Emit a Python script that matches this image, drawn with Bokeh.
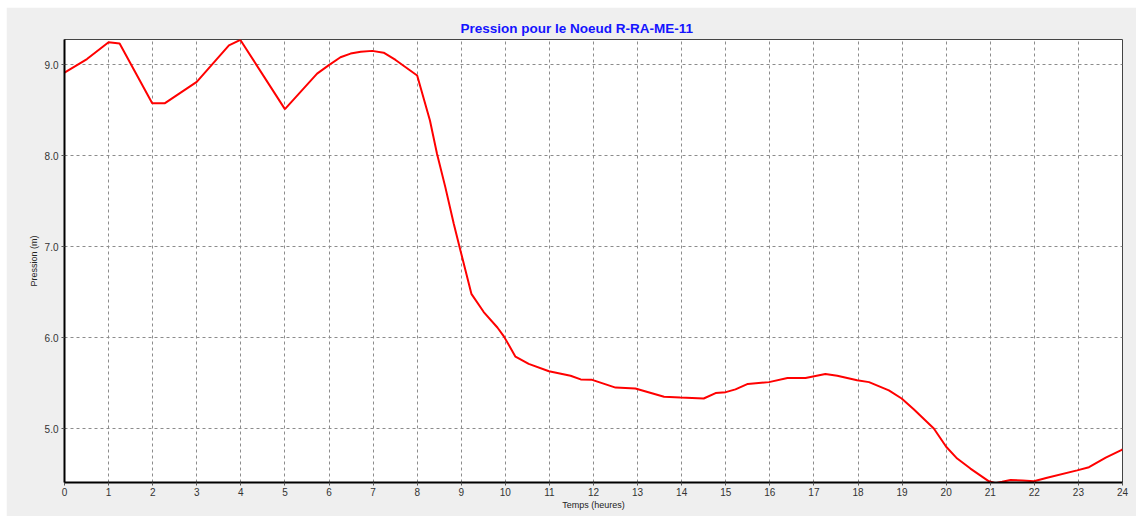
from bokeh.plotting import figure
from bokeh.models import Range1d, FixedTicker, Title, CustomJSTickFormatter
from bokeh.embed import file_html
from bokeh.resources import INLINE

temps = [0.0, 0.51, 1.0, 1.25, 1.99, 2.28, 3.0, 3.73, 3.99, 5.0, 5.73, 5.99, 6.26, 6.49,
         6.72, 6.98, 7.24, 7.51, 8.0, 8.29, 8.45, 8.64, 8.83, 8.98, 9.23, 9.51, 9.82,
         9.97, 10.23, 10.53, 10.99, 11.48, 11.71, 11.97, 12.5, 12.95, 13.6, 13.97, 14.5,
         14.77, 15.0, 15.22, 15.5, 15.98, 16.4, 16.81, 17.26, 17.53, 17.98, 18.25, 18.7,
         18.99, 19.27, 19.72, 20.0, 20.25, 20.55, 20.97, 21.12, 21.27, 21.46, 21.73,
         21.99, 22.29, 22.97, 23.24, 23.62, 23.96, 24.0]
pression = [8.91, 9.06, 9.245, 9.23, 8.575, 8.575, 8.81, 9.21, 9.27, 8.51, 8.90, 8.99,
            9.08, 9.12, 9.14, 9.15, 9.13, 9.05, 8.88, 8.385, 8.02, 7.65, 7.25, 6.96,
            6.48, 6.28, 6.11, 6.01, 5.79, 5.71, 5.63, 5.58, 5.54, 5.535, 5.45, 5.44,
            5.35, 5.34, 5.33, 5.39, 5.40, 5.43, 5.49, 5.51, 5.555, 5.555, 5.60, 5.58,
            5.53, 5.51, 5.42, 5.33, 5.21, 5.0, 4.80, 4.67, 4.56, 4.42, 4.40, 4.415,
            4.435, 4.43, 4.42, 4.46, 4.54, 4.575, 4.68, 4.76, 4.77]
x_ticks = list(range(0, 25))
y_ticks = [5.0, 6.0, 7.0, 8.0, 9.0]
titre = "Pression pour le Noeud R-RA-ME-11"

p = figure(width=1130, height=509, output_backend="svg", toolbar_location=None,
           x_range=Range1d(0, 24), y_range=Range1d(4.407, 9.275),
           min_border_left=58, min_border_right=14, min_border_top=32, min_border_bottom=34)
p.margin = (7, 0, 0, 6)

p.border_fill_color = "#efefef"
p.background_fill_color = "white"
p.outline_line_color = "#444444"
p.outline_line_width = 1

t = Title(text=titre, align="left", offset=396, text_color="#1414ff",
          text_font="Liberation Sans", text_font_size="13.5px", text_font_style="bold",
          standoff=8)
p.add_layout(t, "above")

p.line(temps, pression, line_color="#ff0000", line_width=2)

for ax in (p.xaxis[0], p.yaxis[0]):
    ax.axis_line_color = "black"
    ax.axis_line_width = 2
    ax.major_tick_line_color = "#555555"
    ax.major_tick_in = 0
    ax.major_tick_out = 3
    ax.minor_tick_line_color = None
    ax.major_label_text_font = "Liberation Sans"
    ax.major_label_text_font_size = "10px"
    ax.major_label_text_color = "#333333"
    ax.axis_label_text_font = "Liberation Sans"
    ax.axis_label_text_font_size = "9px"
    ax.axis_label_text_font_style = "normal"
    ax.axis_label_text_color = "#222222"

p.xaxis[0].ticker = FixedTicker(ticks=x_ticks)
p.yaxis[0].ticker = FixedTicker(ticks=y_ticks)
p.yaxis[0].formatter = CustomJSTickFormatter(code="return tick.toFixed(1);")
p.xaxis[0].axis_label = "Temps (heures)"
p.yaxis[0].axis_label = "Pression (m)"
p.xaxis[0].major_label_standoff = 2
p.xaxis[0].axis_label_standoff = 1
p.yaxis[0].major_label_standoff = 3
p.yaxis[0].axis_label_standoff = 3

for g in (p.xgrid[0], p.ygrid[0]):
    g.grid_line_color = "#8c8c8c"
    g.grid_line_dash = "3 3"
    g.grid_line_width = 1

open("out.html", "w").write(file_html(p, INLINE))
